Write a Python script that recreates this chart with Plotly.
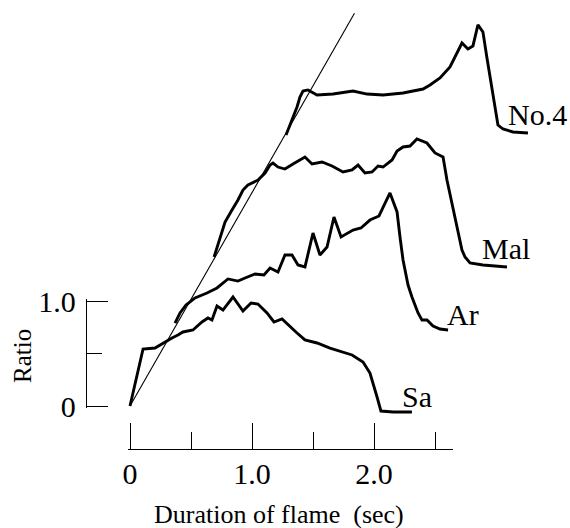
import plotly.graph_objects as go

# ---- data (time in sec, ratio; curves stacked as in the original figure) ----
sa_t = [0, 0.107, 0.205, 0.270, 0.344, 0.393, 0.434, 0.516, 0.590, 0.639, 0.672, 0.713,
        0.762, 0.844, 0.926, 0.992, 1.049, 1.123, 1.180, 1.246, 1.287, 1.369, 1.434,
        1.533, 1.639, 1.721, 1.820, 1.910, 1.967, 2.025, 2.057, 2.156, 2.311]
sa_r = [0, 0.543, 0.552, 0.600, 0.648, 0.676, 0.705, 0.724, 0.800, 0.838, 0.819, 0.952,
        0.914, 1.038, 0.905, 0.981, 0.971, 0.886, 0.800, 0.829, 0.781, 0.695, 0.629,
        0.600, 0.552, 0.524, 0.486, 0.419, 0.314, 0.086, -0.048, -0.057, -0.057]

ar_t = [0.369, 0.410, 0.459, 0.533, 0.631, 0.713, 0.803, 0.885, 0.943, 1.025, 1.098,
        1.148, 1.213, 1.270, 1.328, 1.377, 1.434, 1.500, 1.557, 1.615, 1.672, 1.730,
        1.828, 1.893, 1.967, 2.041, 2.131, 2.189, 2.213, 2.238, 2.279, 2.311, 2.361,
        2.393, 2.434, 2.484, 2.541, 2.607]
ar_r = [0.790, 0.886, 0.962, 1.029, 1.076, 1.124, 1.210, 1.190, 1.219, 1.257, 1.248,
        1.314, 1.276, 1.438, 1.438, 1.343, 1.324, 1.648, 1.438, 1.514, 1.800, 1.610,
        1.676, 1.695, 1.771, 1.810, 2.029, 1.848, 1.610, 1.390, 1.152, 1.038, 0.886,
        0.819, 0.819, 0.762, 0.733, 0.724]

mal_t = [0.689, 0.713, 0.754, 0.779, 0.836, 0.885, 0.926, 0.967, 1.049, 1.107, 1.148,
         1.172, 1.213, 1.270, 1.336, 1.434, 1.492, 1.574, 1.656, 1.746, 1.820, 1.869,
         1.926, 1.984, 2.033, 2.074, 2.148, 2.189, 2.238, 2.295, 2.352, 2.434, 2.500,
         2.566, 2.598, 2.639, 2.689, 2.721, 2.746, 2.787, 2.893, 3.090]
mal_r = [1.419, 1.514, 1.676, 1.752, 1.867, 1.962, 2.057, 2.105, 2.152, 2.219, 2.295,
         2.314, 2.276, 2.257, 2.305, 2.371, 2.305, 2.324, 2.286, 2.229, 2.248, 2.295,
         2.219, 2.229, 2.286, 2.276, 2.343, 2.429, 2.467, 2.476, 2.543, 2.505, 2.410,
         2.371, 2.152, 1.933, 1.648, 1.486, 1.419, 1.362, 1.343, 1.324]

no4_t = [1.279, 1.311, 1.336, 1.369, 1.393, 1.418, 1.459, 1.533, 1.664, 1.828, 1.943,
         2.074, 2.238, 2.402, 2.459, 2.541, 2.623, 2.721, 2.770, 2.811, 2.852, 2.893,
         2.926, 2.967, 3.016, 3.057, 3.139, 3.262]
no4_r = [2.581, 2.676, 2.752, 2.848, 2.943, 3.000, 3.010, 2.962, 2.971, 3.000, 2.971,
         2.962, 2.981, 3.019, 3.057, 3.124, 3.229, 3.457, 3.400, 3.429, 3.629, 3.562,
         3.314, 3.010, 2.676, 2.638, 2.610, 2.600]

ref_t = [0.0, 1.84]
ref_r = [0.0, 3.74]

series_names = ["Sa", "Ar", "Mal", "No.4"]

x_tickvals = [0, 1, 2]
x_ticktext = ["0", "1.0", "2.0"]
x_minor = [0.5, 1.5, 2.5]
y_tickvals = [0, 1]
y_ticktext = ["0", "1.0"]
y_minor = [0.5]

# ---- layout geometry (pixels) ----
W, H = 570, 528
X0, PX_PER_S = 130, 122.0
Y0, PX_PER_R = 406, 105.0
PAD = 1.6  # px: plotly drops inside ticks within 1px of an axis end

def px(x):
    return x / W

def py(y):
    return 1 - y / H

SERIF = "Liberation Serif, Times New Roman, serif"
ink = "black"

fig = go.Figure()

fig.add_trace(go.Scatter(x=ref_t, y=ref_r, mode="lines",
                         line=dict(color=ink, width=1.1), hoverinfo="skip",
                         showlegend=False))
for tt, rr in [(sa_t, sa_r), (ar_t, ar_r), (mal_t, mal_r), (no4_t, no4_r)]:
    fig.add_trace(go.Scatter(x=tt, y=rr, mode="lines",
                             line=dict(color=ink, width=2.9), hoverinfo="skip",
                             showlegend=False))

# invisible traces so the two decorative axes are drawn (each paired with a hidden axis)
fig.add_trace(go.Scatter(x=[0.5], y=[0.5], xaxis="x", yaxis="y2", mode="markers",
                         marker=dict(opacity=0), hoverinfo="skip", showlegend=False))
fig.add_trace(go.Scatter(x=[0.5], y=[0.5], xaxis="x2", yaxis="y", mode="markers",
                         marker=dict(opacity=0), hoverinfo="skip", showlegend=False))

ex = PAD / PX_PER_S
ey = PAD / PX_PER_R
fig.update_layout(
    width=W, height=H,
    margin=dict(l=0, r=0, t=0, b=0, pad=0, autoexpand=False),
    paper_bgcolor="white", plot_bgcolor="rgba(0,0,0,0)",
    showlegend=False,
    xaxis=dict(domain=[0, 1], range=[-X0 / PX_PER_S, (W - X0) / PX_PER_S],
               visible=False, fixedrange=True, automargin=False),
    yaxis=dict(domain=[0, 1], range=[(Y0 - H) / PX_PER_R, Y0 / PX_PER_R],
               visible=False, fixedrange=True, automargin=False),
    xaxis2=dict(domain=[px(130 - PAD), px(453)], range=[-ex, 323 / PX_PER_S],
                anchor="free", position=py(449), side="bottom",
                showline=True, linecolor=ink, linewidth=1.4,
                showgrid=False, zeroline=False, automargin=False,
                tickmode="array", tickvals=x_tickvals, ticktext=x_ticktext,
                ticks="inside", ticklen=26, tickwidth=1.4, tickcolor=ink,
                minor=dict(tickmode="array", tickvals=x_minor, ticks="inside",
                           ticklen=17, tickwidth=1.4, tickcolor=ink, showgrid=False),
                tickfont=dict(family=SERIF, size=30, color=ink),
                ticklabelstandoff=-2, fixedrange=True),
    yaxis2=dict(domain=[py(406 + PAD), py(301 - PAD)], range=[-ey, 1 + ey],
                anchor="free", position=px(86), side="left",
                showline=True, linecolor=ink, linewidth=1.4,
                showgrid=False, zeroline=False, automargin=False,
                tickmode="array", tickvals=y_tickvals, ticktext=y_ticktext,
                ticks="inside", ticklen=21, tickwidth=1.4, tickcolor=ink,
                minor=dict(tickmode="array", tickvals=y_minor, ticks="inside",
                           ticklen=15, tickwidth=1.4, tickcolor=ink, showgrid=False),
                tickfont=dict(family=SERIF, size=30, color=ink),
                ticklabelstandoff=4, fixedrange=True),
)

label_pos = {"No.4": (537, 115), "Mal": (506, 248), "Ar": (463, 314), "Sa": (417, 396)}
for name in series_names:
    lx, ly = label_pos[name]
    fig.add_annotation(x=px(lx), y=py(ly), xref="paper", yref="paper",
                       text=name, showarrow=False, xanchor="center", yanchor="middle",
                       font=dict(family=SERIF, size=30, color=ink))

fig.add_annotation(x=px(279), y=py(514), xref="paper", yref="paper",
                   text="Duration of flame\u2002(sec)", showarrow=False,
                   xanchor="center", yanchor="middle",
                   font=dict(family=SERIF, size=26, color=ink))
fig.add_annotation(x=px(22), y=py(356), xref="paper", yref="paper",
                   text="Ratio", showarrow=False, textangle=-90,
                   xanchor="center", yanchor="middle",
                   font=dict(family=SERIF, size=25, color=ink))

fig.write_html("out.html")
